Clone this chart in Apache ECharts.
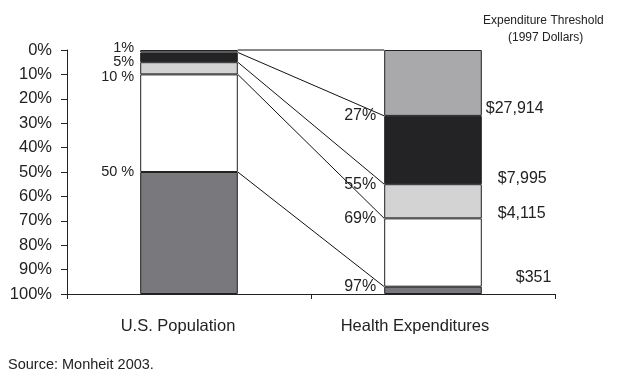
<!DOCTYPE html>
<html>
<head>
<meta charset="utf-8">
<script src="https://cdn.jsdelivr.net/npm/echarts@6/dist/echarts.min.js"></script>
<style>
  html, body { margin: 0; padding: 0; background: #fff; }
  #chart { width: 622px; height: 386px; }
</style>
</head>
<body>
<div id="chart"></div>
<script>
// data
var categories = ['U.S. Population', 'Health Expenditures'];
var groups = ['Top 1%', 'Next 4%', 'Next 5%', 'Next 40%', 'Bottom 50%'];
var popShare = [1, 4, 5, 40, 50];
var spendShare = [27, 28, 14, 28, 3];
var popCuts = [0, 1, 5, 10, 50];
var spendCuts = [0, 27, 55, 69, 97];
var popCutLabels = ['', '1%', '5%', '10 %', '50 %'];
var spendCutLabels = ['', '27%', '55%', '69%', '97%'];
var thresholds = ['', '$27,914', '$7,995', '$4,115', '$351'];
var yTicks = [0, 10, 20, 30, 40, 50, 60, 70, 80, 90, 100];

// styles
var colors = ['#a9a9ab', '#232224', '#d3d3d3', '#ffffff', '#79787d'];
var font = 'Liberation Sans, Arial, Helvetica, sans-serif';
var popLabelDy = [0, -4, 0, 3, 0];
var thrOffset = [[0, 0], [4, -7], [16, -6], [16, -5], [34, -9]];
var BAR = 0.4;

var chart = echarts.init(document.getElementById('chart'));

var barSeries = groups.map(function (g, i) {
    return {
        name: g,
        type: 'bar',
        stack: 'all',
        barWidth: BAR * 100 + '%',
        data: [popShare[i], spendShare[i]],
        itemStyle: { color: colors[i], borderColor: '#222', borderWidth: 1 },
        silent: true
    };
});

// connectors + labels drawn with the axes' own coordinates
var linkData = popCuts.map(function (c, i) { return [0, c, spendCuts[i], i]; });

var linkSeries = {
    type: 'custom',
    silent: true,
    z: 5,
    encode: { x: 0, y: 1 },
    data: linkData,
    renderItem: function (params, api) {
        var i = api.value(3);
        var a = api.coord([0, api.value(1)]);
        var b = api.coord([1, api.value(2)]);
        var half = api.size([1, 0])[0] * BAR / 2;
        var x1 = a[0] + half, x2 = b[0] - half;
        var kids = [{
            type: 'line',
            shape: { x1: x1, y1: a[1], x2: x2, y2: b[1] },
            style: { stroke: '#111', lineWidth: 1 }
        }];
        if (popCutLabels[i]) {
            kids.push({
                type: 'text',
                style: {
                    x: a[0] - half - 6, y: a[1] + popLabelDy[i], text: popCutLabels[i],
                    align: 'right', verticalAlign: 'middle',
                    font: '14.5px ' + font, fill: '#222'
                }
            });
            kids.push({
                type: 'text',
                style: {
                    x: x2 - 8, y: b[1], text: spendCutLabels[i],
                    align: 'right', verticalAlign: 'middle',
                    font: '16px ' + font, fill: '#222'
                }
            });
            kids.push({
                type: 'text',
                style: {
                    x: b[0] + half + thrOffset[i][0], y: b[1] + thrOffset[i][1], text: thresholds[i],
                    align: 'left', verticalAlign: 'middle',
                    font: '16px ' + font, fill: '#222'
                }
            });
        }
        return { type: 'group', children: kids };
    }
};

chart.setOption({
    animation: false,
    grid: { left: 67, right: 67, top: 50, bottom: 92 },
    xAxis: {
        type: 'category',
        data: categories,
        axisLine: { onZero: false, lineStyle: { color: '#222', width: 1 } },
        axisTick: { show: true, length: 5, lineStyle: { color: '#222' } },
        axisLabel: {
            margin: 24,
            color: '#222',
            fontSize: 16.5,
            fontFamily: font,
            formatter: function (v, i) { return i === 0 ? '{a|' + v + '}' : '{b|' + v + '}'; },
            rich: {
                a: { fontSize: 16.5, fontFamily: font, color: '#222', padding: [0, 22, 0, 0] },
                b: { fontSize: 16.5, fontFamily: font, color: '#222', padding: [0, 36, 0, 0] }
            }
        },
        splitLine: { show: false }
    },
    yAxis: {
        type: 'value',
        inverse: true,
        min: yTicks[0],
        max: yTicks[yTicks.length - 1],
        interval: 10,
        axisLine: { show: true, lineStyle: { color: '#222', width: 1 } },
        axisTick: { show: true, length: 6, lineStyle: { color: '#222' } },
        axisLabel: { formatter: '{value}%', margin: 15, color: '#222', fontSize: 16.5, fontFamily: font },
        splitLine: { show: false }
    },
    graphic: [
        { type: 'text', left: 483, top: 15, style: { text: 'Expenditure Threshold', font: '12px ' + font, fill: '#222' } },
        { type: 'text', left: 508, top: 32, style: { text: '(1997 Dollars)', font: '12px ' + font, fill: '#222' } },
        { type: 'text', left: 8, top: 357, style: { text: 'Source: Monheit 2003.', font: '14.5px ' + font, fill: '#222' } }
    ],
    series: barSeries.concat([linkSeries])
});
</script>
</body>
</html>
